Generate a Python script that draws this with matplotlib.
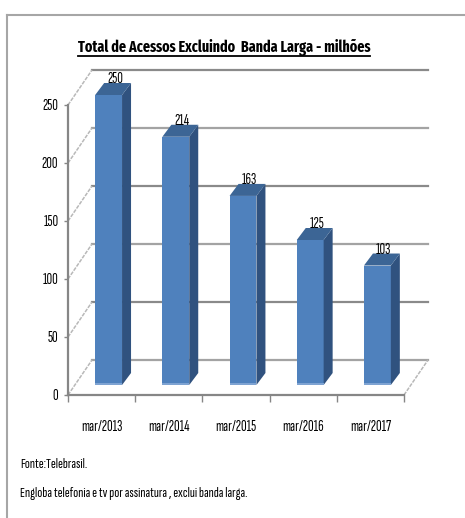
import matplotlib
matplotlib.use("Agg")
import matplotlib.pyplot as plt
from matplotlib import font_manager as fm
from matplotlib.patches import Polygon, Rectangle
from matplotlib.lines import Line2D

# ---- data ----
categories = ["mar/2013", "mar/2014", "mar/2015", "mar/2016", "mar/2017"]
values = [250, 214, 163, 125, 103]
yticks = [0, 50, 100, 150, 200, 250]
title = "Total de Acessos Excluindo  Banda Larga - milhões"
notes = ["Fonte:Telebrasil.",
         "Engloba telefonia e tv por assinatura , exclui banda larga."]

# pick narrow sans families if installed
installed = {f.name for f in fm.fontManager.ttflist}
narrow = ["Sofia Sans Extra Condensed", "Saira Extra Condensed",
          "Fira Sans Extra Condensed", "Open Sans Condensed",
          "Barlow Condensed", "Roboto Condensed", "Fira Sans Condensed",
          "PT Sans Narrow", "Archivo Narrow", "Liberation Sans Narrow"]
narrow_bold = ["Saira Extra Condensed", "Fira Sans Extra Condensed",
               "Barlow Condensed", "Roboto Condensed",
               "Fira Sans Condensed", "PT Sans Narrow"]
family = next((n for n in narrow if n in installed), "DejaVu Sans")
family_bold = next((n for n in narrow_bold if n in installed), family)
plt.rcParams["font.family"] = [family, "DejaVu Sans"]

W, H, DPI = 465, 518, 100
fig = plt.figure(figsize=(W / DPI, H / DPI), dpi=DPI)
fig.patch.set_facecolor("white")
renderer = fig.canvas.get_renderer()


def fit(txt, target_px):
    """Scale a text's font size so its rendered width is target_px."""
    w = txt.get_window_extent(renderer).width
    txt.set_fontsize(txt.get_fontsize() * target_px / w)
    return txt


# front plane of the 3-D box (pixel placement of the axes)
left_px, right_px, bottom_px, top_px = 68, 404, 395, 105
ax = fig.add_axes([left_px / W, (H - bottom_px) / H,
                   (right_px - left_px) / W, (bottom_px - top_px) / H])
ax.set_xlim(-0.5, len(categories) - 0.5)
ax.set_ylim(0, 250)
ax.patch.set_alpha(0)

# pixel -> data unit conversion
px_x = (right_px - left_px) / len(categories)
px_y = (bottom_px - top_px) / 250.0


def dpx(dx, dy):
    return dx / px_x, dy / px_y


wdx, wdy = dpx(24, 35)      # wall depth
bdx0, bdy0 = dpx(7, 10)     # bar position inside the depth
bdx, bdy = dpx(9, 12)       # bar depth

x0, x1 = -0.5, len(categories) - 0.5

# back wall gridlines + left wall diagonals
for k, v in enumerate(yticks):
    col = "#a3a3a3" if k % 2 == 0 else "#8a8a8a"
    ax.add_line(Line2D([x0 + wdx, x1 + wdx], [v + wdy, v + wdy],
                       color=col, lw=1.6, clip_on=False, zorder=1))
    ax.add_line(Line2D([x0, x0 + wdx], [v, v + wdy], color="#b8b8b8",
                       lw=1.1, ls=(0, (2.5, 0.8)), clip_on=False, zorder=1))
# floor right edge
ax.add_line(Line2D([x1, x1 + wdx], [0, wdy], color="#b8b8b8", lw=1.1,
                   ls=(0, (2.5, 0.8)), clip_on=False, zorder=1))

# bars
front_col = "#4f81bd"
side_col = "#30527f"
top_col = "#3c6595"
base_col = "#7ea3d2"
bw = 0.4
label_texts = []
for i, v in enumerate(values):
    xl = i - bw / 2 + bdx0
    xr = xl + bw
    yb = bdy0
    yt = v + bdy0
    ax.add_patch(Rectangle((xl, yb), bw, v, facecolor=front_col,
                           edgecolor="none", zorder=3, clip_on=False))
    ax.add_patch(Rectangle((xl, yb), bw, dpx(0, 2.5)[1], facecolor=base_col,
                           edgecolor="none", zorder=4, clip_on=False))
    ax.add_patch(Polygon([(xr, yb), (xr + bdx, yb + bdy), (xr + bdx, yt + bdy),
                          (xr, yt)], closed=True, facecolor=side_col,
                         edgecolor="none", zorder=3, clip_on=False))
    ax.add_patch(Polygon([(xl, yt), (xr, yt), (xr + bdx, yt + bdy),
                          (xl + bdx, yt + bdy)], closed=True,
                         facecolor=top_col, edgecolor="none", zorder=3,
                         clip_on=False))
    label_texts.append(ax.text(i + bdx0 + bdx * 0.7, yt + bdy - dpx(0, 3)[1],
                               f"{v}", ha="center", va="bottom", fontsize=9,
                               color="black", zorder=5))

# front axes
for s in ["top", "right"]:
    ax.spines[s].set_visible(False)
for s in ["left", "bottom"]:
    ax.spines[s].set_color("#868686")
    ax.spines[s].set_linewidth(1.6)
ax.set_yticks(yticks)
ax.set_xticks(range(len(categories)))
ax.set_xticks([x0 + k for k in range(len(categories) + 1)], minor=True)

# title, notes
t = fig.text(224 / W, 1 - 48 / H, title, ha="center", va="center",
             fontsize=13, fontweight="bold",
             family=[family_bold, "DejaVu Sans"])
fit(t, 294)
n1 = fig.text(20 / W, 1 - 465 / H, notes[0], ha="left", va="center",
              fontsize=9)
n2 = fig.text(20 / W, 1 - 493 / H, notes[1], ha="left", va="center",
              fontsize=9)
fit(n2, 232)
small = n2.get_fontsize()
n1.set_fontsize(small)

ax.set_yticklabels([str(v) for v in yticks], fontsize=small * 1.05)
ax.set_xticklabels(categories, fontsize=small * 1.05)
for lt in label_texts:
    lt.set_fontsize(small * 1.05)
ax.tick_params(axis="y", length=3, width=1, color="#868686", pad=4)
ax.tick_params(axis="x", which="major", length=0, pad=18)
ax.tick_params(axis="x", which="minor", length=5, width=1, color="#868686")

# underline under the title
bb = t.get_window_extent(renderer)
fig.add_artist(Line2D([bb.x0 / W, bb.x1 / W], [(bb.y0 + 1) / H] * 2,
                      transform=fig.transFigure, color="black", lw=1.3))

# chart border (top and left edges)
border = "#a6a6a6"
fig.add_artist(Line2D([7 / W, 1], [1 - 15 / H] * 2, transform=fig.transFigure,
                      color=border, lw=1.5))
fig.add_artist(Line2D([7 / W] * 2, [0, 1 - 15 / H], transform=fig.transFigure,
                      color=border, lw=1.5))

fig.savefig("out.png", dpi=DPI)
